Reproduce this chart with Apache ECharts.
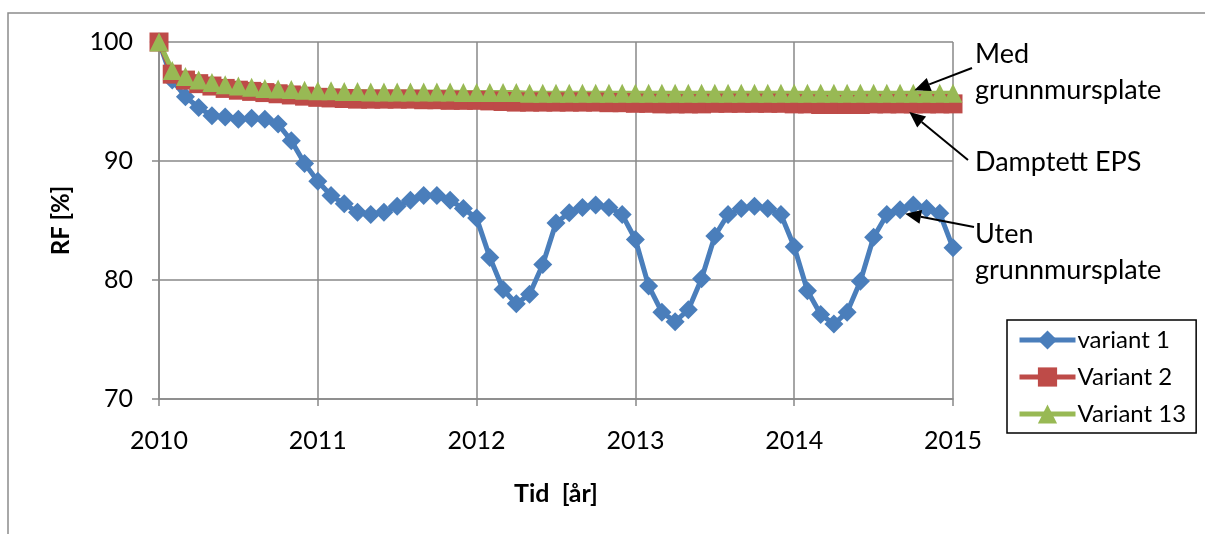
<!DOCTYPE html>
<html>
<head>
<meta charset="utf-8">
<script src="https://cdn.jsdelivr.net/npm/echarts@6/dist/echarts.min.js"></script>
<style>
html,body{margin:0;padding:0;background:#fff;}
#chart{width:1205px;height:534px;}
</style>
</head>
<body>
<div id="chart"></div>
<script>
// Monthly values, Jan 2010 .. Jan 2015 (61 points)
const startYear = 2010;
const yearTicks = [2010, 2011, 2012, 2013, 2014, 2015];
const rfTicks = [70, 80, 90, 100];
const seriesNames = ['variant 1', 'Variant 2', 'Variant 13'];

const variant1 = [
  100, 96.8, 95.4, 94.5, 93.8, 93.7, 93.5, 93.6, 93.5, 93.1, 91.7, 89.8,
  88.3, 87.1, 86.4, 85.7, 85.5, 85.7, 86.2, 86.7, 87.1, 87.1, 86.7, 86.0,
  85.2, 81.9, 79.2, 78.0, 78.8, 81.3, 84.8, 85.65, 86.1, 86.3, 86.1, 85.5,
  83.4, 79.5, 77.3, 76.5, 77.5, 80.1, 83.7, 85.5, 86.0, 86.2, 86.0, 85.5,
  82.8, 79.1, 77.1, 76.3, 77.3, 79.9, 83.6, 85.5, 85.9, 86.3, 86.0, 85.6,
  82.7
];
const variant2 = [
  100, 97.3, 96.8, 96.5, 96.3, 96.1, 95.95, 95.85, 95.75, 95.65, 95.55, 95.45,
  95.35, 95.3, 95.25, 95.2, 95.2, 95.2, 95.2, 95.2, 95.15, 95.15, 95.1, 95.1,
  95.1, 95.05, 95.0, 94.95, 94.95, 94.95, 94.95, 94.95, 94.95, 94.95, 94.9, 94.9,
  94.85, 94.85, 94.8, 94.8, 94.8, 94.8, 94.85, 94.85, 94.85, 94.85, 94.85, 94.85,
  94.8, 94.8, 94.75, 94.75, 94.75, 94.75, 94.8, 94.8, 94.8, 94.8, 94.8, 94.8,
  94.8
];
const variant13 = [
  100, 97.6, 97.1, 96.8, 96.6, 96.4, 96.3, 96.2, 96.1, 96.05, 96.0, 95.95,
  95.9, 95.9, 95.85, 95.85, 95.8, 95.8, 95.8, 95.8, 95.8, 95.8, 95.8, 95.75,
  95.75, 95.75, 95.75, 95.75, 95.7, 95.7, 95.7, 95.7, 95.7, 95.7, 95.7, 95.7,
  95.7, 95.7, 95.7, 95.7, 95.7, 95.7, 95.7, 95.7, 95.7, 95.7, 95.7, 95.7,
  95.7, 95.7, 95.7, 95.7, 95.7, 95.7, 95.7, 95.7, 95.7, 95.7, 95.7, 95.7,
  95.7
];

function toPairs(vals) {
  return vals.map((v, i) => [startYear + i / 12, v]);
}

const FONT = 'Lato, "Open Sans", sans-serif';
const chart = echarts.init(document.getElementById('chart'), null, {renderer: 'canvas'});

const colors = ['#4A7EBB', '#BE4B48', '#98B954'];

const option = {
  animation: false,
  backgroundColor: '#ffffff',
  color: colors,
  grid: {left: 159, right: 252, top: 42, bottom: 135, containLabel: false},
  xAxis: {
    type: 'value',
    min: yearTicks[0], max: yearTicks[yearTicks.length - 1], interval: 1,
    name: 'Tid  [år]', nameLocation: 'middle', nameGap: 82,
    nameTextStyle: {fontFamily: FONT, fontWeight: 'bold', fontSize: 25, color: '#000'},
    axisLine: {show: true, lineStyle: {color: '#888', width: 1.5}},
    axisTick: {show: true, inside: false, length: 7, lineStyle: {color: '#888', width: 1.5}},
    axisLabel: {fontFamily: FONT, fontSize: 25, color: '#000', margin: 29,
      formatter: v => String(Math.round(v))},
    splitLine: {show: true, lineStyle: {color: '#888', width: 1.5}}
  },
  yAxis: {
    type: 'value',
    min: rfTicks[0], max: rfTicks[rfTicks.length - 1], interval: 10,
    name: 'RF [%]', nameLocation: 'middle', nameGap: 86, nameRotate: 90,
    nameTextStyle: {fontFamily: FONT, fontWeight: 'bold', fontSize: 24, color: '#000'},
    axisLine: {show: true, lineStyle: {color: '#888', width: 1.5}},
    axisTick: {show: true, inside: false, length: 7, lineStyle: {color: '#888', width: 1.5}},
    axisLabel: {fontFamily: FONT, fontSize: 25, color: '#000', margin: 26},
    splitLine: {show: true, lineStyle: {color: '#888', width: 1.5}}
  },
  legend: {
    orient: 'vertical',
    left: 1007, top: 320,
    padding: [8, 10, 7, 10],
    itemGap: 13,
    itemWidth: 56, itemHeight: 24,
    borderColor: '#000', borderWidth: 1.5,
    backgroundColor: '#fff',
    lineStyle: {width: 5},
    textStyle: {fontFamily: FONT, fontSize: 24, color: '#000', padding: [0, 0, 0, -3]},
    data: seriesNames
  },
  series: [
    {
      name: seriesNames[0], type: 'line', data: toPairs(variant1),
      symbol: 'diamond', symbolSize: 19, showAllSymbol: true,
      lineStyle: {width: 5, color: colors[0]},
      itemStyle: {color: colors[0]}
    },
    {
      name: seriesNames[1], type: 'line', data: toPairs(variant2),
      symbol: 'rect', symbolSize: 19, showAllSymbol: true,
      lineStyle: {width: 5, color: colors[1]},
      itemStyle: {color: colors[1]}
    },
    {
      name: seriesNames[2], type: 'line', data: toPairs(variant13),
      symbol: 'triangle', symbolSize: 19, showAllSymbol: true,
      lineStyle: {width: 5, color: colors[2]},
      itemStyle: {color: colors[2]}
    }
  ]
};
chart.setOption(option);

// Annotation arrows anchored to data points
function px(vals, i) {
  return chart.convertToPixel({gridIndex: 0}, [startYear + i / 12, vals[i]]);
}
function arrow(from, tip) {
  const dx = tip[0] - from[0], dy = tip[1] - from[1];
  const len = Math.sqrt(dx * dx + dy * dy);
  const ux = dx / len, uy = dy / len;
  const hl = 16, hw = 7;
  const bx = tip[0] - ux * hl, by = tip[1] - uy * hl;
  return [
    {type: 'line', shape: {x1: from[0], y1: from[1], x2: bx, y2: by},
      style: {stroke: '#000', lineWidth: 2}, z: 100},
    {type: 'polygon', shape: {points: [tip, [bx - uy * hw, by + ux * hw], [bx + uy * hw, by - ux * hw]]},
      style: {fill: '#000'}, z: 100}
  ];
}
const pMed = px(variant13, 57);
const pEps = px(variant2, 57);
const pUten = px(variant1, 56);
const TFONT = '27px ' + FONT;
const elements = [
  {type: 'rect', shape: {x: 8, y: 13, width: 1300, height: 600},
    style: {fill: 'none', stroke: '#8c8c8c', lineWidth: 1.5}, z: -10, silent: true},
  {type: 'text', left: 975, top: 36, z: 100,
    style: {text: 'Med\ngrunnmursplate', font: TFONT, fill: '#000', lineHeight: 36}},
  {type: 'text', left: 975, top: 144, z: 100,
    style: {text: 'Damptett EPS', font: TFONT, fill: '#000', lineHeight: 36}},
  {type: 'text', left: 975, top: 216, z: 100,
    style: {text: 'Uten\ngrunnmursplate', font: TFONT, fill: '#000', lineHeight: 36}}
]
  .concat(arrow([972, 68], [pMed[0] + 1, pMed[1] - 3]))
  .concat(arrow([968, 160], [pEps[0] - 4, pEps[1] + 8]))
  .concat(arrow([974, 227], [pUten[0] + 5, pUten[1] + 4]));
chart.setOption({graphic: {elements: elements}});
</script>
</body>
</html>
